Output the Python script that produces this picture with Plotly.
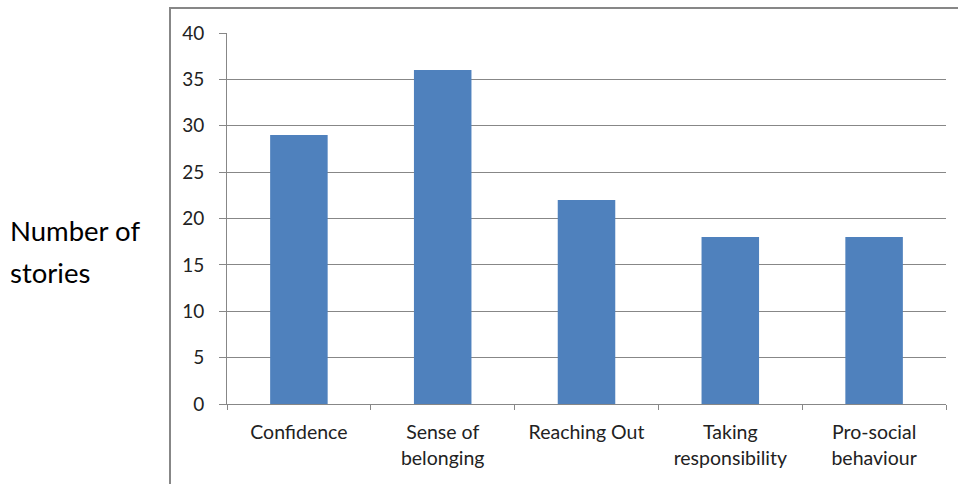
import plotly.graph_objects as go

categories = ["Confidence", "Sense of<br>belonging", "Reaching Out", "Taking<br>responsibility", "Pro-social<br>behaviour"]
values = [29, 36, 22, 18, 18]
y_ticks = [0, 5, 10, 15, 20, 25, 30, 35, 40]

FONT = "Lato"
GRID = "#878787"

W, H = 958, 484
ml, mr, mt, mb = 227, 12, 33, 80
pw, ph = W - ml - mr, H - mt - mb

def px_x(x):
    return (x - ml) / pw

def px_y(y):
    return 1 - (y - mt) / ph

fig = go.Figure(go.Bar(x=categories, y=values, marker=dict(color="#4F81BD", line=dict(width=0)), width=0.4))

fig.update_layout(
    width=W, height=H,
    margin=dict(l=ml, r=mr, t=mt, b=mb),
    paper_bgcolor="white", plot_bgcolor="white",
    font=dict(family=FONT, size=19, color="#222222"),
    showlegend=False,
    xaxis=dict(
        showline=True, linecolor=GRID, linewidth=1,
        ticks="outside", tickson="boundaries", ticklen=5, tickcolor=GRID,
        tickfont=dict(size=19.5, family=FONT, color="#222222"),
        ticklabelstandoff=11,
    ),
    yaxis=dict(
        range=[0, 40], tickvals=y_ticks,
        showgrid=True, gridcolor=GRID, gridwidth=1,
        showline=True, linecolor=GRID, linewidth=1,
        ticks="outside", ticklen=7, tickcolor=GRID,
        tickfont=dict(size=19, family=FONT, color="#222222"),
        ticklabelstandoff=11,
        zeroline=False,
    ),
    shapes=[
        dict(type="rect", xref="paper", yref="paper",
             x0=px_x(170), x1=px_x(1000), y0=px_y(520), y1=px_y(8),
             line=dict(color=GRID, width=2), fillcolor="rgba(0,0,0,0)", layer="below"),
    ],
    annotations=[
        dict(text="Number of", xref="paper", yref="paper", x=px_x(8), y=px_y(230),
             xanchor="left", yanchor="middle", showarrow=False,
             font=dict(size=27.5, family=FONT, color="#000000")),
        dict(text="stories", xref="paper", yref="paper", x=px_x(8), y=px_y(272),
             xanchor="left", yanchor="middle", showarrow=False,
             font=dict(size=27.5, family=FONT, color="#000000")),
    ],
)

fig.write_html("out.html")
